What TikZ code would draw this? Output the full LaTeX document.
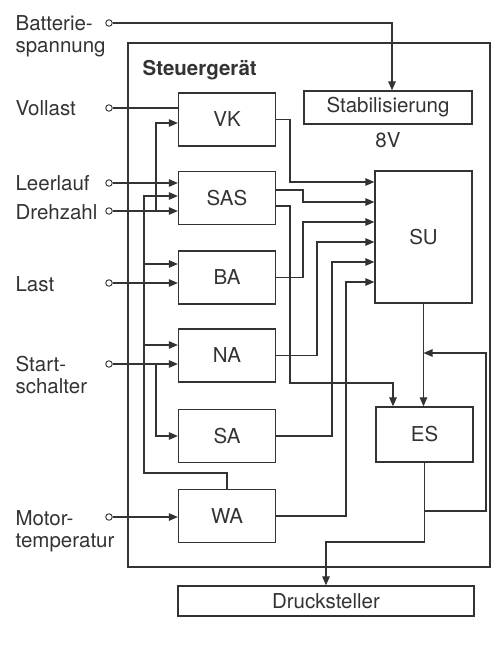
\documentclass[tikz,border=0pt]{standalone}
\usepackage{fontspec}
\setmainfont{TeX Gyre Heros}
\usepackage{tikz}
\usetikzlibrary{arrows.meta,positioning,calc}

\newcommand{\fsz}{\fontsize{20.5}{22}\selectfont}
\tikzset{
  blk/.style={draw, line width=1.3pt, minimum width=97pt, minimum height=53pt, inner sep=0pt},
  arr/.style={-{Triangle[length=9pt,width=7.5pt]}},
  term/.style={draw, circle, fill=white, minimum size=6.5pt, inner sep=0pt, line width=0.9pt},
  lbl/.style={anchor=base west, inner sep=0pt},
}

\begin{document}
\begin{tikzpicture}[x=1pt, y=-1pt, line width=1.2pt, color=black!80, font=\fsz]
\useasboundingbox (0,0) rectangle (495,652);
% Steuergeraet frame
\draw (128,43) rectangle (490,567);
\node[lbl, font=\fsz\bfseries] (title) at (142,76) {Steuergerät};
% left column of blocks
\foreach \n/\t/\y in {vk/VK/119.5,sas/SAS/198,ba/BA/277.5,na/NA/355.5,sa/SA/436,wa/WA/516}
  \node[blk] (\n) at (227,\y) {\t};
% right blocks
\node[blk, minimum width=168pt, minimum height=33pt] (stab) at (388,107.5) {Stabilisierung};
\node (volt) at (388,140) {8V};
\node[blk, minimum height=132pt] (su) at (423.5,237) {SU};
\node[blk, minimum height=55pt] (es) at (424.5,434.5) {ES};
\node[blk, minimum width=296pt, minimum height=30pt] (druck) at (326,601) {Drucksteller};
% input terminals
\foreach \n/\y in {batt/23,voll/108,leer/183,dreh/211,last/283,start/364,motor/517}
  \node[term] (\n) at (109,\y) {};
\node[lbl] (l-batt) at (15,31) {Batterie-};
\node[lbl] (l-batt2) at (15,53) {spannung};
\node[lbl] (l-voll) at (15,116) {Vollast};
\node[lbl] (l-leer) at (15,191) {Leerlauf};
\node[lbl] (l-dreh) at (15,219) {Drehzahl};
\node[lbl] (l-last) at (15,291) {Last};
\node[lbl] (l-start) at (15,371) {Start-};
\node[lbl] (l-start2) at (15,393) {schalter};
\node[lbl] (l-motor) at (15,525) {Motor-};
\node[lbl] (l-motor2) at (15,547) {temperatur};
% inputs
\draw[arr] (batt) -| ([xshift=4pt]stab.north);
\draw (voll) -- (voll -| vk.west);
\draw[arr] (leer) -- (leer -| sas.west);
\draw[arr] (dreh) -- (dreh -| sas.west);
\draw[arr] (156,211) |- ([yshift=-3.5pt]vk.west);
\draw[arr] (last) -- (last -| ba.west);
\draw[arr] (start) -- (start -| na.west);
\draw[arr] (156,364) |- (sa.west);
\draw[arr] (motor) -- (motor -| wa.west);
% WA feedback bus
\draw[arr] (wa.north) |- (144,473) |- (sas.west |- 0,196);
\draw[arr] (144,264) -- (ba.west |- 0,264);
\draw[arr] (144,345) -- (na.west |- 0,345);
% outputs to SU
\draw[arr] (vk.east) -| (290,182) -- (su.west |- 0,182);
\draw[arr] ([yshift=8pt]sas.east) -| (303,202) -- (su.west |- 0,202);
\foreach \n/\x/\y in {ba/303/222,na/317/242,sa/332/262,wa/346/282}
  \draw[arr] (\n.east) -| (\x,\y) -- (su.west |- 0,\y);
% to ES
\draw[arr] ([yshift=-8pt]sas.east) -| (290,383) -| (es.north -| 393,0);
\draw[arr] (su.south) -- (su.south |- es.north);
% ES to Drucksteller, with feedback
\draw[arr] (es.south) |- (326,542) -- (druck.north);
\draw[arr] (es.south |- 0,511) -| (486,353) -- (su.south |- 0,353);
\end{tikzpicture}
\end{document}
